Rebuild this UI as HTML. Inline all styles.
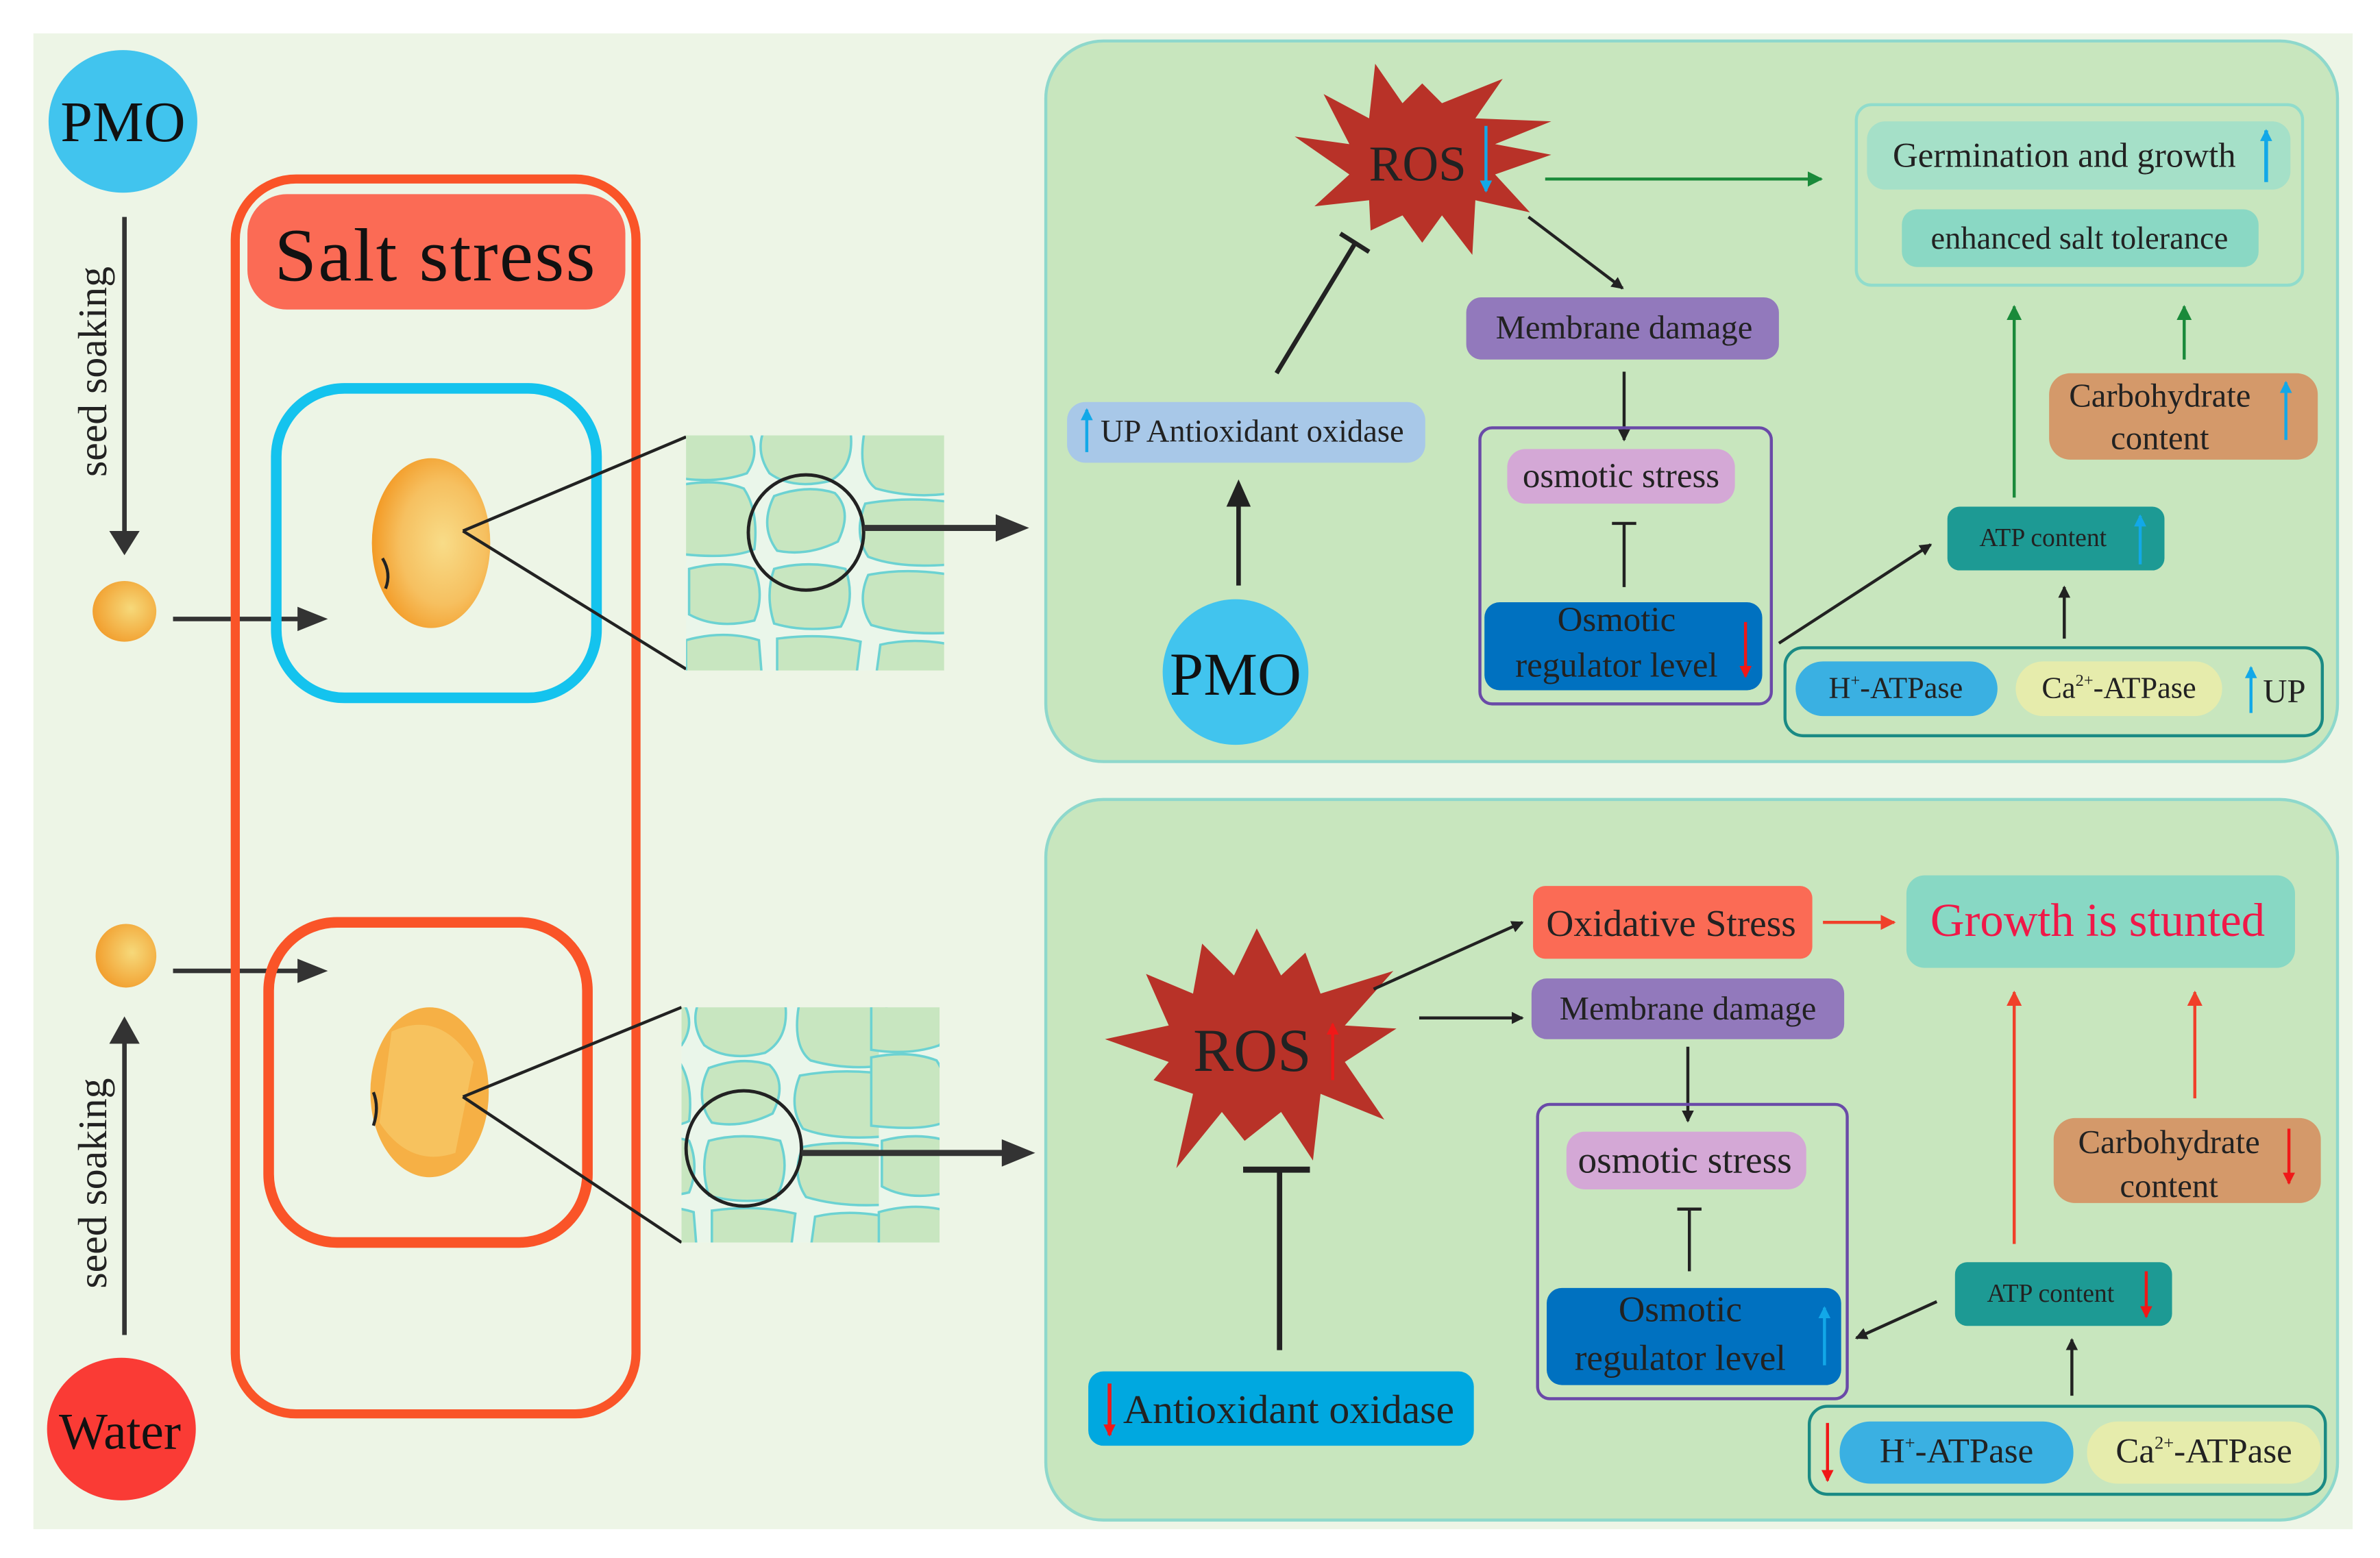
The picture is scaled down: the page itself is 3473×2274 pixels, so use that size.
<!DOCTYPE html>
<html><head><meta charset="utf-8"><style>
html,body{margin:0;padding:0;background:#fff;}
svg{display:block;}
svg text{font-family:"Liberation Serif","Times New Roman",serif;}
</style></head><body>
<svg width="3473" height="2274" viewBox="0 0 1568 1027" preserveAspectRatio="none" xmlns="http://www.w3.org/2000/svg" xmlns:xlink="http://www.w3.org/1999/xlink" font-family="Liberation Serif, serif">
<defs>
<marker id="ak" markerWidth="8" markerHeight="8" refX="7" refY="4" orient="auto" markerUnits="userSpaceOnUse"><path d="M0,0 L8,4 L0,8 z" fill="#222"/></marker>
<marker id="ag" markerWidth="10" markerHeight="10" refX="9" refY="5" orient="auto" markerUnits="userSpaceOnUse"><path d="M0,0 L10,5 L0,10 z" fill="#1a8a3a"/></marker>
<marker id="ar" markerWidth="10" markerHeight="10" refX="9" refY="5" orient="auto" markerUnits="userSpaceOnUse"><path d="M0,0 L10,5 L0,10 z" fill="#f0402a"/></marker>
<marker id="ab" markerWidth="8" markerHeight="8" refX="7" refY="4" orient="auto" markerUnits="userSpaceOnUse"><path d="M0,0 L8,4 L0,8 z" fill="#12a8e8"/></marker>
<marker id="arr" markerWidth="8" markerHeight="8" refX="7" refY="4" orient="auto" markerUnits="userSpaceOnUse"><path d="M0,0 L8,4 L0,8 z" fill="#f01818"/></marker>
<radialGradient id="seed" cx="0.6" cy="0.5" r="0.6"><stop offset="0" stop-color="#f8dc88"/><stop offset="0.6" stop-color="#f6c060"/><stop offset="1" stop-color="#f39a25"/></radialGradient>
<radialGradient id="seedb" cx="0.6" cy="0.45" r="0.6"><stop offset="0" stop-color="#f6d97a"/><stop offset="1" stop-color="#f2a030"/></radialGradient>
<clipPath id="c1"><rect x="0" y="0" width="170" height="155"/></clipPath>
<g id="cellg">
<rect width="170" height="155" fill="#eaf6ea"/>
<g fill="#c8e6c0" stroke="#6cd2d2" stroke-width="1.6">
<path d="M-5,-5 L40,-5 Q50,10 40,25 Q20,32 -5,28 z"/>
<path d="M52,-5 L108,-5 Q112,20 95,30 Q70,36 55,25 Q45,10 52,-5 z"/>
<path d="M118,-5 L175,-5 L175,38 Q150,42 125,35 Q112,25 118,-5 z"/>
<path d="M-5,33 Q20,28 38,35 Q48,50 45,75 Q30,82 -5,78 z"/>
<path d="M58,40 Q80,32 98,38 Q110,50 100,70 Q80,80 60,76 Q48,60 58,40 z"/>
<path d="M118,45 Q145,40 175,44 L175,85 Q140,88 120,80 Q110,65 118,45 z"/>
<path d="M2,88 Q25,82 45,88 Q52,105 45,122 Q20,128 2,118 z"/>
<path d="M58,88 Q80,82 105,88 Q112,108 102,126 Q78,130 58,124 Q52,105 58,88 z"/>
<path d="M120,92 Q145,87 175,92 L175,130 Q145,132 122,125 Q112,110 120,92 z"/>
<path d="M0,135 Q25,128 48,135 L50,160 L0,160 z"/>
<path d="M60,134 Q90,130 115,136 L112,160 L60,160 z"/>
<path d="M128,138 Q150,133 175,138 L175,160 L125,160 z"/>
</g>
</g>
</defs>

<rect x="22" y="22" width="1528" height="986" fill="#edf5e6"/>

<!-- LEFT SIDE -->
<ellipse cx="81" cy="80" rx="49" ry="47" fill="#41c4ee"/>
<text x="81" y="93" font-size="38" text-anchor="middle" fill="#111">PMO</text>
<line x1="82" y1="143" x2="82" y2="352" stroke="#333" stroke-width="3"/>
<path d="M72,350 L92,350 L82,366 z" fill="#333"/>
<text transform="translate(70,245) rotate(-90)" font-size="27" text-anchor="middle" fill="#222">seed soaking</text>
<ellipse cx="82" cy="403" rx="21" ry="20" fill="url(#seedb)"/>
<line x1="114" y1="408" x2="200" y2="408" stroke="#333" stroke-width="3"/>
<path d="M196,400 L216,408 L196,416 z" fill="#333"/>

<ellipse cx="83" cy="630" rx="20" ry="21" fill="url(#seedb)"/>
<line x1="114" y1="640" x2="200" y2="640" stroke="#333" stroke-width="3"/>
<path d="M196,632 L216,640 L196,648 z" fill="#333"/>
<line x1="82" y1="880" x2="82" y2="685" stroke="#333" stroke-width="3"/>
<path d="M72,688 L92,688 L82,670 z" fill="#333"/>
<text transform="translate(70,780) rotate(-90)" font-size="27" text-anchor="middle" fill="#222">seed soaking</text>
<ellipse cx="80" cy="942" rx="49" ry="47" fill="#fa3b35"/>
<text x="79" y="955" font-size="34" text-anchor="middle" fill="#111">Water</text>

<rect x="155" y="118" width="264" height="814" rx="40" fill="none" stroke="#fa5428" stroke-width="6"/>
<rect x="163" y="128" width="249" height="76" rx="26" fill="#fb6b55"/>
<text x="287" y="185" font-size="50" text-anchor="middle" fill="#111" letter-spacing="1">Salt stress</text>

<rect x="182" y="256" width="211" height="204" rx="45" fill="none" stroke="#14c3ee" stroke-width="7"/>
<ellipse cx="284" cy="358" rx="39" ry="56" fill="url(#seed)"/>
<path d="M252,368 Q258,378 254,388" stroke="#222" stroke-width="2" fill="none"/>

<rect x="177" y="608" width="210" height="211" rx="45" fill="none" stroke="#fa5428" stroke-width="7"/>
<ellipse cx="283" cy="720" rx="39" ry="56" fill="#f6b045"/>
<path d="M258,680 Q290,665 312,700 L300,760 Q270,770 250,740 z" fill="#f8cf70" opacity="0.6"/>
<path d="M246,720 Q250,730 246,742" stroke="#222" stroke-width="2" fill="none"/>

<line x1="305" y1="350" x2="452" y2="288" stroke="#222" stroke-width="2"/>
<line x1="305" y1="350" x2="452" y2="441" stroke="#222" stroke-width="2"/>
<line x1="305" y1="723" x2="449" y2="664" stroke="#222" stroke-width="2"/>
<line x1="305" y1="723" x2="449" y2="819" stroke="#222" stroke-width="2"/>

<g transform="translate(452,287)"><g clip-path="url(#c1)"><use xlink:href="#cellg" href="#cellg"/></g></g>
<circle cx="531" cy="351" r="38" fill="none" stroke="#222" stroke-width="2.2"/>
<line x1="569" y1="348" x2="660" y2="348" stroke="#333" stroke-width="4"/>
<path d="M656,339 L678,348 L656,357 z" fill="#333"/>

<g transform="translate(449,664)"><g clip-path="url(#c1)"><g transform="translate(-40,0)"><use xlink:href="#cellg" href="#cellg"/></g><g transform="translate(130,0)"><use xlink:href="#cellg" href="#cellg"/></g></g></g>
<circle cx="490" cy="757" r="38" fill="none" stroke="#222" stroke-width="2.2"/>
<line x1="528" y1="760" x2="662" y2="760" stroke="#333" stroke-width="4"/>
<path d="M660,751 L682,760 L660,769 z" fill="#333"/>

<!-- TOP PANEL -->
<rect x="689" y="27" width="851" height="475" rx="38" fill="#c8e6be" stroke="#8ed8cc" stroke-width="2"/>
<polygon fill="#b83228" points="1022,102 985,115 1008,140 972,132 970,168 950,142 937,160 924,142 903,152 902,132 866,136 889,115 853,90 889,95 872,62 902,78 906,42 924,68 937,55 950,68 990,52 972,78 1022,80 985,95"/>
<text x="934" y="119" font-size="33" text-anchor="middle" fill="#222">ROS</text>
<line x1="979" y1="83" x2="979" y2="126" stroke="#12a8e8" stroke-width="2" marker-end="url(#ab)"/>
<line x1="1018" y1="118" x2="1200" y2="118" stroke="#1a8a3a" stroke-width="2" marker-end="url(#ag)"/>
<line x1="1007" y1="143" x2="1069" y2="190" stroke="#222" stroke-width="2" marker-end="url(#ak)"/>

<rect x="1223" y="69" width="294" height="119" rx="10" fill="none" stroke="#90dccc" stroke-width="2"/>
<rect x="1230" y="80" width="279" height="45" rx="12" fill="#a5e0c8"/>
<text x="1360" y="110" font-size="23" text-anchor="middle" fill="#222">Germination and growth</text>
<line x1="1493" y1="120" x2="1493" y2="86" stroke="#12a8e8" stroke-width="2.5" marker-end="url(#ab)"/>
<rect x="1253" y="138" width="235" height="38" rx="10" fill="#8ad8c4"/>
<text x="1370" y="164" font-size="21" text-anchor="middle" fill="#222">enhanced salt tolerance</text>

<rect x="966" y="196" width="206" height="41" rx="10" fill="#9279bc"/>
<text x="1070" y="223" font-size="22" text-anchor="middle" fill="#222">Membrane damage</text>
<line x1="1070" y1="245" x2="1070" y2="290" stroke="#222" stroke-width="2" marker-end="url(#ak)"/>

<rect x="975" y="282" width="192" height="182" rx="8" fill="none" stroke="#6a4aa8" stroke-width="2"/>
<rect x="993" y="296" width="150" height="36" rx="12" fill="#d4a8d6"/>
<text x="1068" y="321" font-size="23" text-anchor="middle" fill="#222">osmotic stress</text>
<line x1="1070" y1="387" x2="1070" y2="345" stroke="#222" stroke-width="2"/>
<line x1="1062" y1="345" x2="1078" y2="345" stroke="#222" stroke-width="2"/>
<rect x="978" y="397" width="183" height="58" rx="10" fill="#0071c0"/>
<text x="1065" y="416" font-size="23" text-anchor="middle" fill="#222">Osmotic</text>
<text x="1065" y="446" font-size="23" text-anchor="middle" fill="#222">regulator level</text>
<line x1="1150" y1="410" x2="1150" y2="446" stroke="#f01818" stroke-width="2" marker-end="url(#arr)"/>

<rect x="703" y="265" width="236" height="40" rx="12" fill="#a8c8e8"/>
<line x1="716" y1="298" x2="716" y2="270" stroke="#12a8e8" stroke-width="2" marker-end="url(#ab)"/>
<text x="825" y="291" font-size="21" text-anchor="middle" fill="#222">UP Antioxidant oxidase</text>
<line x1="841" y1="246" x2="893" y2="160" stroke="#222" stroke-width="3"/>
<line x1="883" y1="154" x2="902" y2="166" stroke="#222" stroke-width="3"/>
<line x1="816" y1="386" x2="816" y2="330" stroke="#222" stroke-width="3"/>
<path d="M808,334 L816,316 L824,334 z" fill="#222"/>
<ellipse cx="814" cy="443" rx="48" ry="48" fill="#41c4ee"/>
<text x="814" y="458" font-size="40" text-anchor="middle" fill="#111">PMO</text>

<rect x="1283" y="334" width="143" height="42" rx="8" fill="#1d9a94"/>
<text x="1346" y="360" font-size="17" text-anchor="middle" fill="#222">ATP content</text>
<line x1="1410" y1="372" x2="1410" y2="340" stroke="#12a8e8" stroke-width="2" marker-end="url(#ab)"/>
<line x1="1172" y1="424" x2="1272" y2="359" stroke="#222" stroke-width="2" marker-end="url(#ak)"/>
<line x1="1360" y1="421" x2="1360" y2="387" stroke="#222" stroke-width="2" marker-end="url(#ak)"/>
<line x1="1327" y1="328" x2="1327" y2="202" stroke="#1a8a3a" stroke-width="2" marker-end="url(#ag)"/>
<line x1="1439" y1="237" x2="1439" y2="202" stroke="#1a8a3a" stroke-width="2" marker-end="url(#ag)"/>

<rect x="1350" y="246" width="177" height="57" rx="14" fill="#d4996a"/>
<text x="1423" y="268" font-size="22" text-anchor="middle" fill="#222">Carbohydrate</text>
<text x="1423" y="296" font-size="22" text-anchor="middle" fill="#222">content</text>
<line x1="1506" y1="290" x2="1506" y2="252" stroke="#12a8e8" stroke-width="2" marker-end="url(#ab)"/>

<rect x="1176" y="427" width="354" height="58" rx="12" fill="none" stroke="#1a8a84" stroke-width="2"/>
<rect x="1183" y="436" width="133" height="36" rx="18" fill="#3ab0e2"/>
<text x="1249" y="460" font-size="20" text-anchor="middle" fill="#222">H<tspan font-size="11" dy="-8">+</tspan><tspan dy="8">-ATPase</tspan></text>
<rect x="1328" y="436" width="136" height="36" rx="18" fill="#e6ecac"/>
<text x="1396" y="460" font-size="20" text-anchor="middle" fill="#222">Ca<tspan font-size="11" dy="-8">2+</tspan><tspan dy="8">-ATPase</tspan></text>
<line x1="1483" y1="470" x2="1483" y2="440" stroke="#12a8e8" stroke-width="2" marker-end="url(#ab)"/>
<text x="1505" y="463" font-size="22" text-anchor="middle" fill="#222">UP</text>

<!-- BOTTOM PANEL -->
<rect x="689" y="527" width="851" height="475" rx="38" fill="#c8e6be" stroke="#8ed8cc" stroke-width="2"/>
<polygon fill="#b83228" points="920,678 886,700 912,738 870,721 865,765 844,733 820,752 805,733 775,770 786,721 760,712 770,700 728,685 770,676 755,642 786,655 792,622 813,643 828,612 844,643 860,628 870,655 918,640 886,676"/>
<text x="825" y="706" font-size="40" text-anchor="middle" fill="#222">ROS</text>
<line x1="878" y1="712" x2="878" y2="675" stroke="#f01818" stroke-width="2" marker-end="url(#arr)"/>
<line x1="905" y1="652" x2="1003" y2="608" stroke="#222" stroke-width="2" marker-end="url(#ak)"/>
<line x1="935" y1="671" x2="1003" y2="671" stroke="#222" stroke-width="2" marker-end="url(#ak)"/>

<rect x="1010" y="584" width="184" height="48" rx="8" fill="#fb6b55"/>
<text x="1101" y="617" font-size="25" text-anchor="middle" fill="#222">Oxidative Stress</text>
<line x1="1201" y1="608" x2="1248" y2="608" stroke="#f0402a" stroke-width="2" marker-end="url(#ar)"/>
<rect x="1256" y="577" width="256" height="61" rx="12" fill="#88d8c4"/>
<text x="1382" y="617" font-size="31" text-anchor="middle" fill="#f01848">Growth is stunted</text>

<rect x="1009" y="645" width="206" height="40" rx="10" fill="#9279bc"/>
<text x="1112" y="672" font-size="22" text-anchor="middle" fill="#222">Membrane damage</text>
<line x1="1112" y1="690" x2="1112" y2="739" stroke="#222" stroke-width="2" marker-end="url(#ak)"/>

<rect x="1013" y="728" width="204" height="194" rx="8" fill="none" stroke="#6a4aa8" stroke-width="2"/>
<rect x="1032" y="746" width="158" height="38" rx="12" fill="#d4a8d6"/>
<text x="1110" y="773" font-size="25" text-anchor="middle" fill="#222">osmotic stress</text>
<line x1="1113" y1="838" x2="1113" y2="797" stroke="#222" stroke-width="2"/>
<line x1="1105" y1="797" x2="1121" y2="797" stroke="#222" stroke-width="2"/>
<rect x="1019" y="849" width="194" height="64" rx="10" fill="#0071c0"/>
<text x="1107" y="871" font-size="24" text-anchor="middle" fill="#222">Osmotic</text>
<text x="1107" y="903" font-size="24" text-anchor="middle" fill="#222">regulator level</text>
<line x1="1202" y1="900" x2="1202" y2="862" stroke="#12a8e8" stroke-width="2" marker-end="url(#ab)"/>

<rect x="717" y="904" width="254" height="49" rx="10" fill="#00a8e0"/>
<line x1="731" y1="912" x2="731" y2="946" stroke="#f01818" stroke-width="2.5" marker-end="url(#arr)"/>
<text x="849" y="938" font-size="27" text-anchor="middle" fill="#222">Antioxidant oxidase</text>
<line x1="843" y1="890" x2="843" y2="770" stroke="#222" stroke-width="3.5"/>
<line x1="819" y1="771" x2="863" y2="771" stroke="#222" stroke-width="4"/>

<rect x="1288" y="832" width="143" height="42" rx="8" fill="#1d9a94"/>
<text x="1351" y="858" font-size="17" text-anchor="middle" fill="#222">ATP content</text>
<line x1="1414" y1="838" x2="1414" y2="868" stroke="#f01818" stroke-width="2" marker-end="url(#arr)"/>
<line x1="1276" y1="858" x2="1223" y2="882" stroke="#222" stroke-width="2" marker-end="url(#ak)"/>
<line x1="1365" y1="920" x2="1365" y2="883" stroke="#222" stroke-width="2" marker-end="url(#ak)"/>
<line x1="1327" y1="820" x2="1327" y2="654" stroke="#f0402a" stroke-width="2" marker-end="url(#ar)"/>
<line x1="1446" y1="724" x2="1446" y2="654" stroke="#f0402a" stroke-width="2" marker-end="url(#ar)"/>

<rect x="1353" y="737" width="176" height="56" rx="14" fill="#d4996a"/>
<text x="1429" y="760" font-size="22" text-anchor="middle" fill="#222">Carbohydrate</text>
<text x="1429" y="789" font-size="22" text-anchor="middle" fill="#222">content</text>
<line x1="1508" y1="744" x2="1508" y2="780" stroke="#f01818" stroke-width="2" marker-end="url(#arr)"/>

<rect x="1192" y="927" width="340" height="58" rx="12" fill="none" stroke="#1a8a84" stroke-width="2"/>
<line x1="1204" y1="938" x2="1204" y2="976" stroke="#f01818" stroke-width="2" marker-end="url(#arr)"/>
<rect x="1212" y="937" width="154" height="41" rx="20" fill="#3ab0e2"/>
<text x="1289" y="964" font-size="23" text-anchor="middle" fill="#222">H<tspan font-size="12" dy="-9">+</tspan><tspan dy="9">-ATPase</tspan></text>
<rect x="1375" y="937" width="154" height="41" rx="20" fill="#e6ecac"/>
<text x="1452" y="964" font-size="23" text-anchor="middle" fill="#222">Ca<tspan font-size="12" dy="-9">2+</tspan><tspan dy="9">-ATPase</tspan></text>
</svg>
</body></html>
